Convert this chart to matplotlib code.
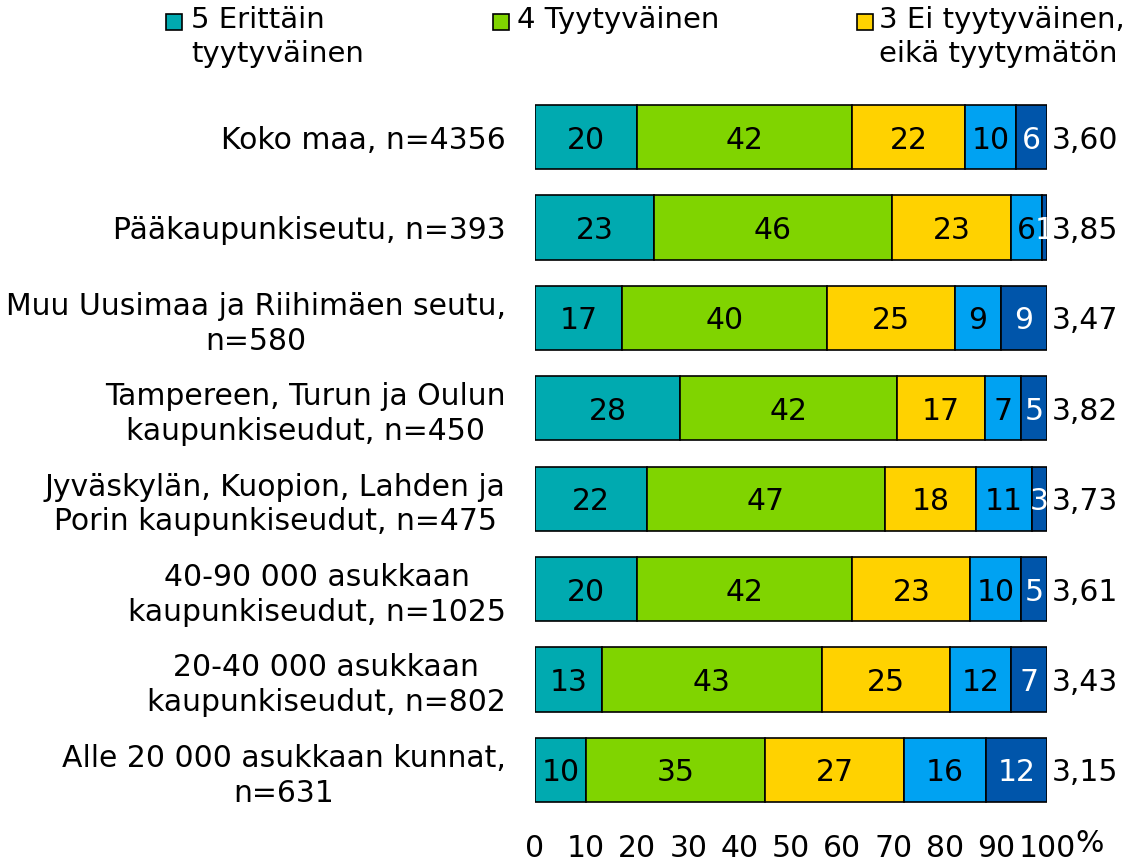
import matplotlib.pyplot as plt
from matplotlib.patches import Rectangle

# ── Data ────────────────────────────────────────────────────────────
categories = [
    "Koko maa, n=4356",
    "Pääkaupunkiseutu, n=393",
    "Muu Uusimaa ja Riihimäen seutu,\nn=580",
    "Tampereen, Turun ja Oulun\nkaupunkiseudut, n=450",
    "Jyväskylän, Kuopion, Lahden ja\nPorin kaupunkiseudut, n=475",
    "40-90 000 asukkaan\nkaupunkiseudut, n=1025",
    "20-40 000 asukkaan\nkaupunkiseudut, n=802",
    "Alle 20 000 asukkaan kunnat,\nn=631",
]
s5 = [20, 23, 17, 28, 22, 20, 13, 10]
s4 = [42, 46, 40, 42, 47, 42, 43, 35]
s3 = [22, 23, 25, 17, 18, 23, 25, 27]
s2 = [10, 6, 9, 7, 11, 10, 12, 16]
s1 = [6, 1, 9, 5, 3, 5, 7, 12]
means = ["3,60", "3,85", "3,47", "3,82", "3,73", "3,61", "3,43", "3,15"]
series_names = ["5 Erittäin\ntyytyväinen", "4 Tyytyväinen", "3 Ei tyytyväinen,\neikä tyytymätön", "2", "1"]
xticks = [0, 10, 20, 30, 40, 50, 60, 70, 80, 90, 100]

colors = ["#00AAB0", "#80D400", "#FFD200", "#00A2F2", "#0055AA"]
text_colors = ["black", "black", "black", "black", "white"]

FS = 21.5
plt.rcParams["font.family"] = "DejaVu Sans"

fig = plt.figure(figsize=(11.29, 8.64), dpi=100)
ax = fig.add_axes([535 / 1129, 1 - 815 / 864, 512 / 1129, 723 / 864])

series = [s5, s4, s3, s2, s1]
n = len(categories)
ypos = list(range(n))

# ── Stacked bars, scaled so every row reaches 100 % ─────────────────
totals = [sum(s[i] for s in series) for i in range(n)]
left = [0.0] * n
for vals, col, tcol in zip(series, colors, text_colors):
    widths = [v * 100 / t for v, t in zip(vals, totals)]
    ax.barh(ypos, widths, left=left, height=0.71, color=col,
            edgecolor="black", linewidth=1.2)
    for i, (v, w) in enumerate(zip(vals, widths)):
        ax.text(left[i] + w / 2, i, str(v), ha="center", va="center_baseline",
                fontsize=FS, color=tcol)
    left = [l + w for l, w in zip(left, widths)]

for i, m in enumerate(means):
    ax.text(101, i, m, ha="left", va="center_baseline", fontsize=FS)

ax.set_xlim(0, 100)
ax.set_ylim(n - 0.5, -0.5)
ax.set_yticks(ypos)
ax.set_yticklabels(categories, fontsize=FS)
for lab in ax.get_yticklabels():
    lab.set_multialignment("center")
    lab.set_linespacing(1.25)
ax.set_xticks(xticks)
ax.set_xticklabels([str(t) for t in xticks], fontsize=FS)
ax.tick_params(axis="y", length=0, pad=21)
ax.tick_params(axis="x", length=0, pad=14)
for sp in ax.spines.values():
    sp.set_visible(False)

fig.text(1090 / 1129, 1 - 843 / 864, "%", ha="center", va="center", fontsize=FS)

# ── Legend (only the first three entries fit) ───────────────────────
sq_x = [166, 493, 857]
txt_x = [191, 517, 879]
for sx, tx, name, col in zip(sq_x, txt_x, series_names[:3], colors[:3]):
    fig.patches.append(Rectangle((sx / 1129, 1 - 30 / 864), 16 / 1129, 16 / 864,
                                 transform=fig.transFigure, facecolor=col,
                                 edgecolor="black", linewidth=1.2))
    fig.text(tx / 1129, 1 - 6 / 864, name, ha="left", va="top",
             fontsize=21, linespacing=1.25)

plt.savefig("out.png", dpi=100)
plt.close()
